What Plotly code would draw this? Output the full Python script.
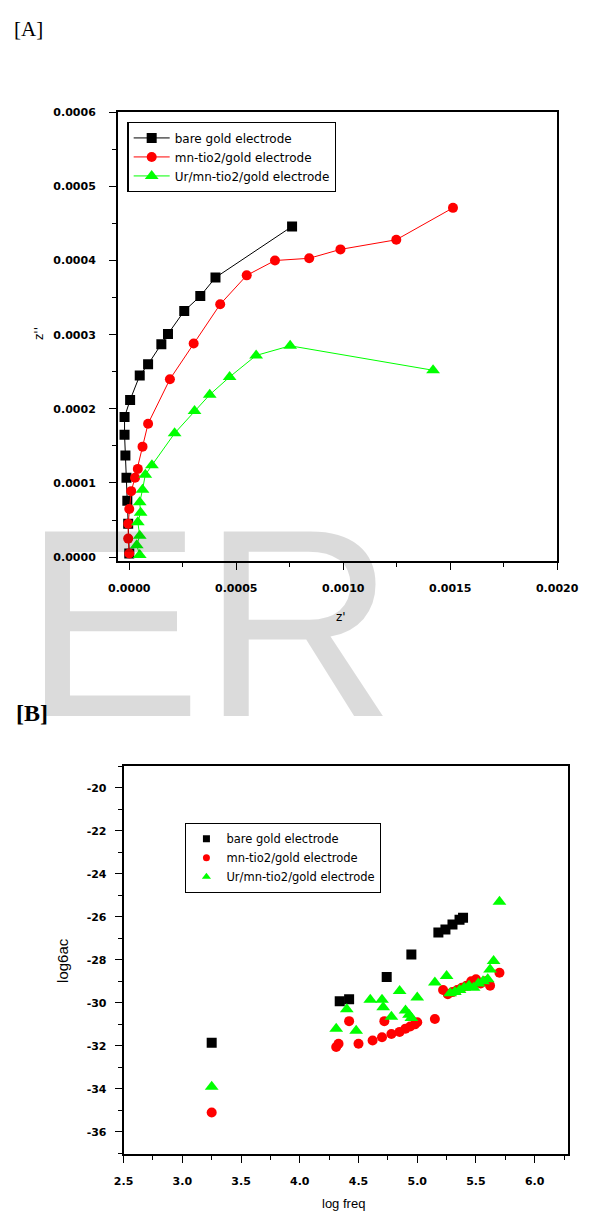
import plotly.graph_objects as go

W, H = 600, 1217

# ---------------- Panel A data (x1e-4) ----------------
bare_zr = [7.61, 4.03, 3.32, 2.57, 1.81, 1.50, 0.88, 0.49, 0.04, -0.22, -0.22, -0.18, -0.13, -0.09, -0.05, 0.0]
bare_zi = [4.46, 3.77, 3.52, 3.32, 3.01, 2.87, 2.60, 2.45, 2.12, 1.89, 1.65, 1.37, 1.07, 0.76, 0.45, 0.05]

mn_zr = [15.13, 12.48, 9.87, 8.41, 6.81, 5.49, 4.25, 3.01, 1.90, 0.88, 0.62, 0.40, 0.27, 0.09, 0.0, -0.05, -0.05, 0.0]
mn_zi = [4.71, 4.28, 4.15, 4.03, 4.00, 3.80, 3.41, 2.88, 2.40, 1.80, 1.49, 1.19, 1.07, 0.89, 0.65, 0.45, 0.25, 0.05]

ur_zr = [14.2, 7.52, 5.93, 4.69, 3.76, 3.05, 2.12, 1.06, 0.75, 0.62, 0.49, 0.53, 0.40, 0.49, 0.35, 0.49]
ur_zi = [2.52, 2.85, 2.72, 2.43, 2.19, 1.97, 1.67, 1.24, 1.11, 0.91, 0.74, 0.60, 0.47, 0.29, 0.16, 0.03]

SCALE_A = 1e-4

# ---------------- Panel B data ----------------
bare_f = [3.25, 4.34, 4.42, 4.74, 4.95, 5.18, 5.24, 5.30, 5.36, 5.39]
bare_s = [-31.85, -29.93, -29.83, -28.8, -27.75, -26.73, -26.59, -26.36, -26.13, -26.04]

mn_f = [3.25, 4.31, 4.33, 4.42, 4.50, 4.62, 4.70, 4.72, 4.78, 4.85, 4.90, 4.94, 4.98, 5.00, 5.15,
        5.22, 5.26, 5.30, 5.34, 5.38, 5.42, 5.46, 5.50, 5.54, 5.58, 5.62, 5.70]
mn_s = [-35.1, -32.05, -31.9, -30.85, -31.9, -31.75, -31.6, -30.85, -31.45, -31.35, -31.2, -31.1, -31.0, -30.9, -30.75,
        -29.4, -29.6, -29.5, -29.4, -29.3, -29.2, -29.0, -28.9, -29.1, -29.0, -29.2, -28.6]

ur_f = [3.25, 4.31, 4.40, 4.48, 4.60, 4.70, 4.71, 4.78, 4.85, 4.90, 4.93, 4.95, 5.00, 5.15, 5.25,
        5.28, 5.32, 5.36, 5.40, 5.44, 5.48, 5.52, 5.56, 5.60, 5.62, 5.65, 5.70]
ur_s = [-33.9, -31.2, -30.3, -31.3, -29.85, -29.85, -30.2, -30.65, -29.45, -30.35, -30.55, -30.7, -29.75, -29.05, -28.75,
        -29.55, -29.5, -29.4, -29.3, -29.2, -29.3, -29.1, -29.0, -28.9, -28.45, -28.05, -25.3]

names = ["bare gold electrode", "mn-tio2/gold electrode", "Ur/mn-tio2/gold electrode"]
colors = ["#000000", "#ff0000", "#00ff00"]
symbols = ["square", "circle", "triangle-up"]


def px_x(p):
    return p / W


def px_y(p):
    return 1 - p / H


fig = go.Figure()

A_series = [(bare_zr, bare_zi), (mn_zr, mn_zi), (ur_zr, ur_zi)]
for (xs, ys), n, c, s in zip(A_series, names, colors, symbols):
    fig.add_trace(go.Scatter(
        x=[v * SCALE_A for v in xs], y=[v * SCALE_A for v in ys],
        mode="lines+markers", name=n, xaxis="x", yaxis="y", legend="legend",
        line=dict(color=c, width=1),
        marker=dict(symbol=s, color=c, size=12 if s == "triangle-up" else 10),
    ))

B_series = [(bare_f, bare_s), (mn_f, mn_s), (ur_f, ur_s)]
for (xs, ys), n, c, s in zip(B_series, names, colors, symbols):
    fig.add_trace(go.Scatter(
        x=xs, y=ys, mode="markers", name=n, xaxis="x2", yaxis="y2", showlegend=False,
        marker=dict(symbol=s, color=c, size=12 if s == "triangle-up" else 10),
    ))
# legend entries for panel B (smaller symbols, as in the reference legend)
for n, c, s in zip(names, colors, symbols):
    fig.add_trace(go.Scatter(
        x=[None], y=[None], mode="markers", name=n, xaxis="x2", yaxis="y2", legend="legend2",
        marker=dict(symbol=s, color=c, size=8 if s == "triangle-up" else 7),
    ))

tickfont = dict(family="DejaVu Sans", size=11, color="black", weight="bold")
axis_common = dict(showline=True, linecolor="black", linewidth=1.8, mirror=True,
                   ticks="outside", ticklen=7, tickwidth=1.3, tickcolor="black",
                   showgrid=False, zeroline=False, tickfont=tickfont)
minor_common = dict(ticks="outside", ticklen=4, tickwidth=1.2, tickcolor="black")
legfont = dict(family="DejaVu Sans", size=12, color="black")

fig.update_layout(
    width=W, height=H, margin=dict(l=0, r=0, t=0, b=0),
    paper_bgcolor="white", plot_bgcolor="white", showlegend=True,
    xaxis=dict(domain=[px_x(114), px_x(578)], range=[-0.000053, 0.0020], anchor="y",
               tickvals=[0, 0.0005, 0.0010, 0.0015, 0.0020], tickformat=".4f",
               ticklabelstandoff=9,
               minor=dict(dtick=0.00025, tick0=0, **minor_common),
               **axis_common),
    yaxis=dict(domain=[px_y(559), px_y(107)], range=[-0.000005, 0.0006], anchor="x",
               tickvals=[0, 0.0001, 0.0002, 0.0003, 0.0004, 0.0005, 0.0006], tickformat=".4f",
               ticklabelstandoff=11,
               minor=dict(dtick=0.00005, tick0=0, **minor_common),
               **axis_common),
    xaxis2=dict(domain=[px_x(120), px_x(589)], range=[2.5, 6.28], anchor="y2",
                tickvals=[2.5, 3.0, 3.5, 4.0, 4.5, 5.0, 5.5, 6.0], tickformat=".1f",
                ticklabelstandoff=8,
                minor=dict(dtick=0.25, tick0=2.5, **minor_common),
                **axis_common),
    yaxis2=dict(domain=[px_y(1157), px_y(766)], range=[-37.05, -19.0], anchor="x2",
                tickvals=[-36, -34, -32, -30, -28, -26, -24, -22, -20],
                ticktext=["-36", "-34", "-32", "-30", "-28", "-26", "-24", "-22", "-20"],
                ticklabelstandoff=6,
                minor=dict(dtick=1, tick0=-37, **minor_common),
                **axis_common),
    legend=dict(x=px_x(124), y=px_y(117), xanchor="left", yanchor="top",
                bgcolor="white", bordercolor="black", borderwidth=1.3,
                font=legfont, tracegroupgap=0, itemsizing="trace", itemwidth=36),
    legend2=dict(x=px_x(185), y=px_y(823), xanchor="left", yanchor="top",
                 bgcolor="white", bordercolor="black", borderwidth=1.3,
                 font=dict(family="DejaVu Sans", size=11.5, color="black"),
                 tracegroupgap=0, itemsizing="trace"),
)

annotations = [
    dict(text="[A]", x=px_x(2), y=px_y(23), xanchor="left", yanchor="middle",
         font=dict(family="Liberation Serif", size=21, color="black")),
    dict(text="<b>[B]</b>", x=px_x(4), y=px_y(712), xanchor="left", yanchor="middle",
         font=dict(family="Liberation Serif", size=24, color="black")),
    dict(text="z''", x=px_x(30), y=px_y(330), textangle=-90, xanchor="center", yanchor="middle",
         font=dict(family="DejaVu Sans", size=12, color="black")),
    dict(text="z'", x=px_x(350), y=px_y(616), xanchor="center", yanchor="middle",
         font=dict(family="DejaVu Sans", size=12, color="black")),
    dict(text="log6ac", x=px_x(56), y=px_y(962), textangle=-90, xanchor="center", yanchor="middle",
         font=dict(family="Liberation Sans", size=15, color="black")),
    dict(text="log freq", x=px_x(352), y=px_y(1206), xanchor="center", yanchor="middle",
         font=dict(family="Liberation Sans", size=13, color="black")),
    # watermark
    dict(text="ER", x=px_x(210), y=px_y(622), xanchor="center", yanchor="middle",
         font=dict(family="Liberation Sans", size=268, color="rgba(0,0,0,0.14)")),
]
for a in annotations:
    a.update(xref="paper", yref="paper", showarrow=False)
fig.update_layout(annotations=annotations)

fig.write_html("out.html", config={"displayModeBar": False},
               post_script="document.body.style.margin='0';")
